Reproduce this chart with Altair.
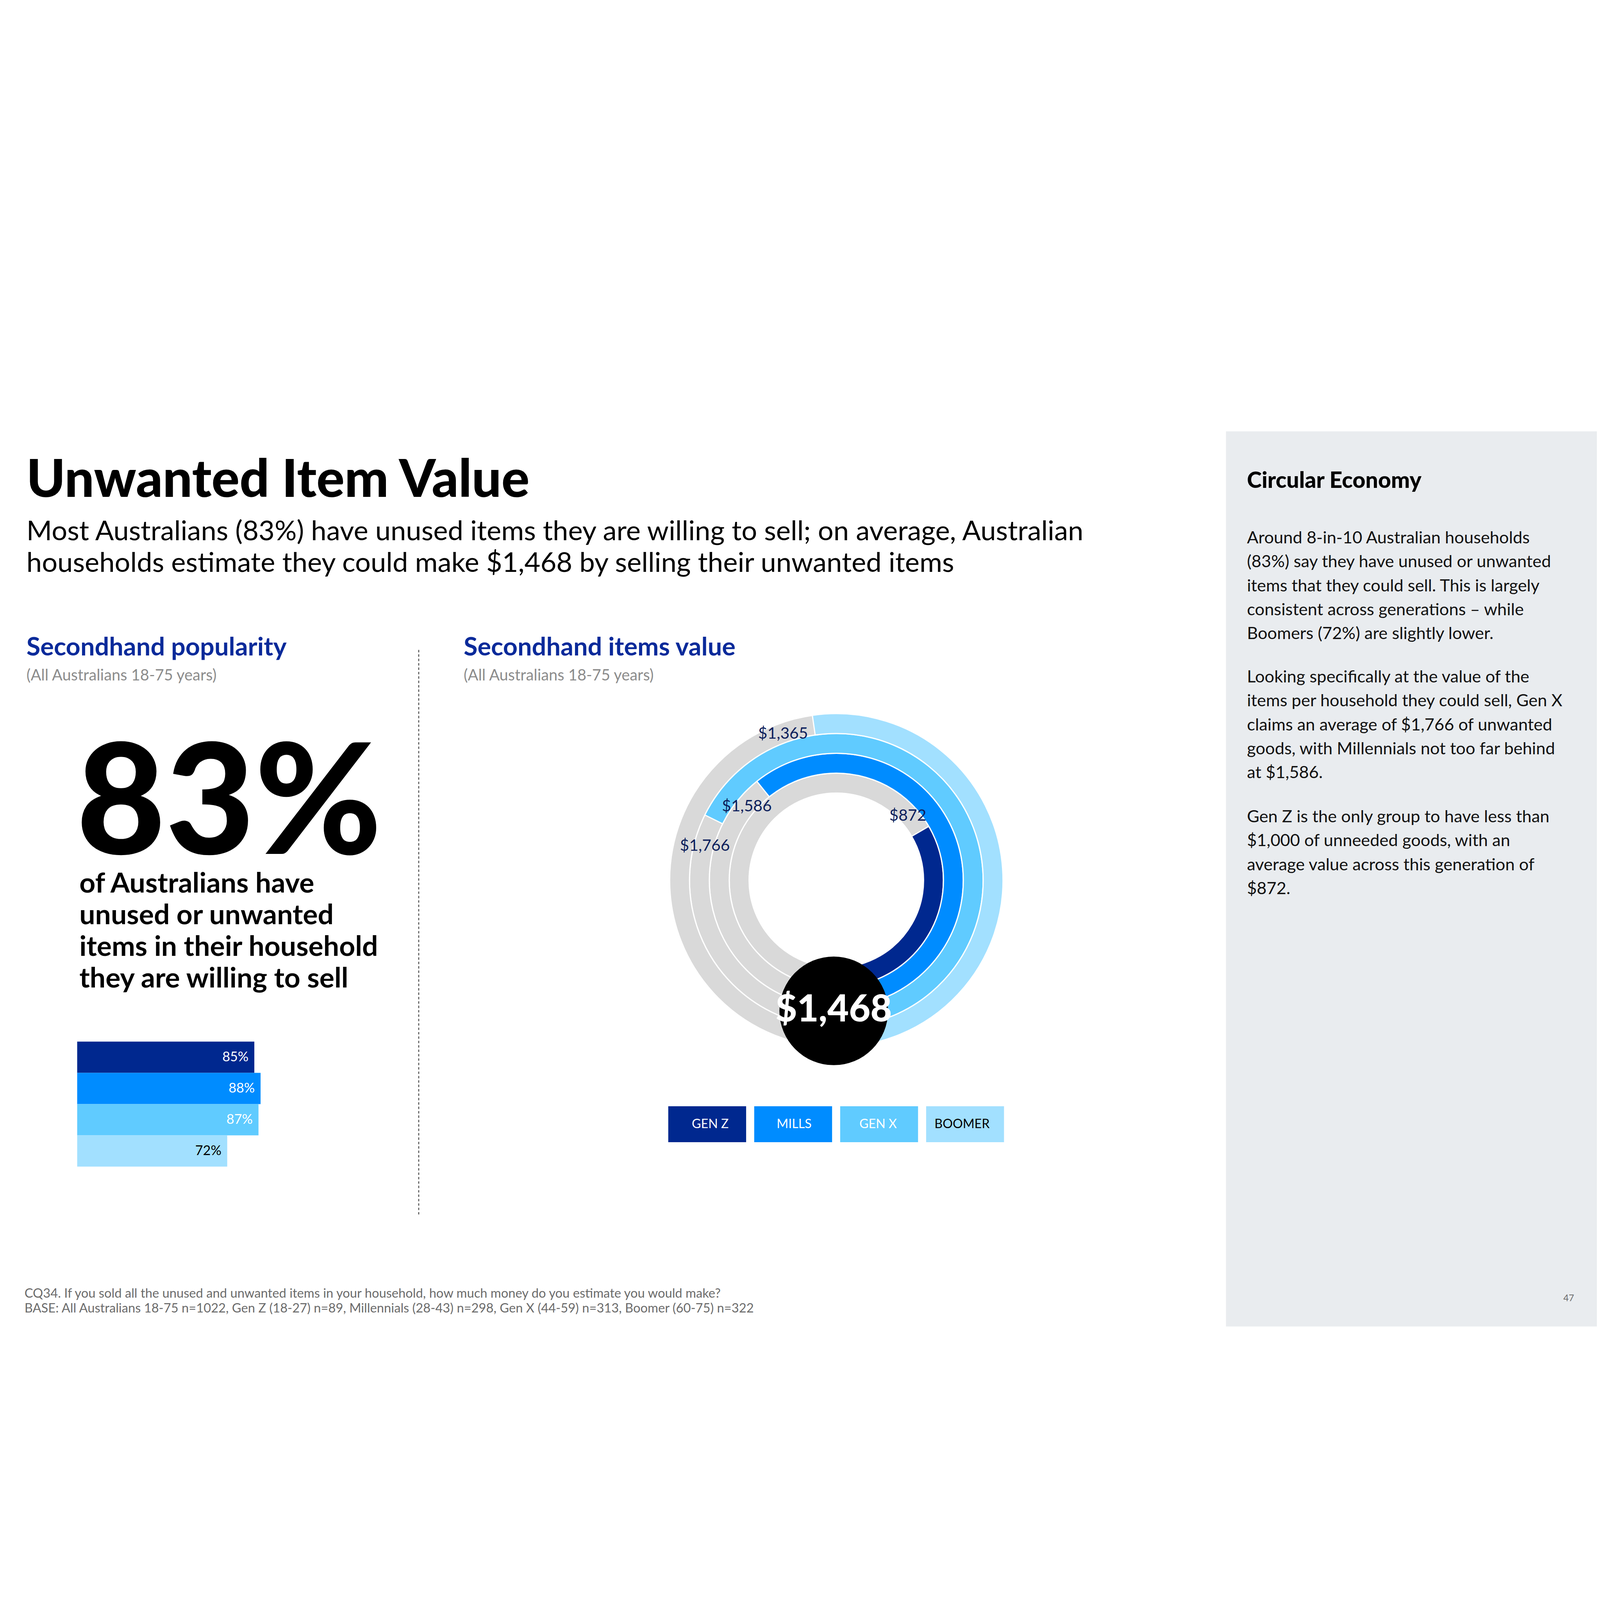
import math
import altair as alt
import pandas as pd

# data
generations = ["GEN Z", "MILLS", "GEN X", "BOOMER"]
willing_pct = [85, 88, 87, 72]          # have items willing to sell (%)
item_value = [872, 1586, 1766, 1365]    # estimated value of unwanted items ($)
overall_pct = [83]
overall_value = [1468]

gen_colors = ["#00288F", "#008CFF", "#60CBFF", "#A2E0FF"]

FONT = "Lato"
NAVY = "#0A2A9A"
W, H = 7984, 4484
OFF = 8  # page margin


def P(v):
    return v - OFF


one = pd.DataFrame({"k": [0]})


def label(text, x, y, size, color="#000000", weight="normal", align="left",
          line_height=None, baseline="alphabetic"):
    kw = dict(text=text, fontSize=size, color=color, fontWeight=weight,
              align=align, font=FONT, baseline=baseline)
    if "\n" in text:
        kw.update(lineBreak="\n", lineHeight=line_height)
    return alt.Chart(one).mark_text(**kw).encode(x=alt.value(P(x)), y=alt.value(P(y)))


color_enc = alt.Color("gen:N", scale=alt.Scale(domain=generations, range=gen_colors), legend=None)
text_col = alt.when(alt.datum.gen == "BOOMER").then(alt.value("#000000")).otherwise(alt.value("#FFFFFF"))

# right grey panel
panel = alt.Chart(one).mark_rect(color="#E9ECEF").encode(
    x=alt.value(P(6134)), x2=alt.value(W), y=alt.value(0), y2=alt.value(H))

# ---- left: popularity bars
bar_df = pd.DataFrame({"gen": generations, "pct": willing_pct})
x_bar = alt.X("pct:Q", scale=alt.Scale(domain=[0, 100], range=[P(379), P(1423)]), axis=None)
y_bar = alt.Y("gen:N", scale=alt.Scale(domain=generations, range=[P(3065), P(3691)],
                                       paddingInner=0, paddingOuter=0), axis=None)
bars = alt.Chart(bar_df).mark_bar().encode(x=x_bar, y=y_bar, color=color_enc)
bar_text = alt.Chart(bar_df).transform_calculate(lab="datum.pct + '%'").mark_text(
    align="right", baseline="middle", dx=-29, fontSize=67, font=FONT
).encode(x=x_bar, y=y_bar, text="lab:N", color=text_col)

big_pct = alt.Chart(pd.DataFrame({"v": overall_pct})).transform_calculate(
    lab="datum.v + '%'").mark_text(
    align="left", baseline="alphabetic", fontSize=770, fontWeight=900, font=FONT, color="#000000"
).encode(x=alt.value(P(375)), y=alt.value(P(2125)), text="lab:N")

# ---- middle: radial value chart
CX, CY = P(4182), P(2257)
ring_df = pd.DataFrame({"gen": generations, "value": item_value, "ring": [0, 1, 2, 3]})
theta_scale = alt.Scale(domain=[0, 2610], range=[3 * math.pi, math.pi])
radius_scale = alt.Scale(type="linear", domain=[0, 4], range=[437, 835], zero=False)

track = alt.Chart(ring_df).transform_calculate(ring_out="datum.ring + 1").mark_arc(
    theta=0, theta2=2 * math.pi, color="#D9D9D9", stroke="#FFFFFF", strokeWidth=6
).encode(
    x=alt.value(CX), y=alt.value(CY),
    radius=alt.Radius("ring:Q", scale=radius_scale), radius2="ring_out:Q")

arcs = alt.Chart(ring_df).transform_calculate(ring_out="datum.ring + 1").mark_arc(
    stroke="#FFFFFF", strokeWidth=6
).encode(
    x=alt.value(CX), y=alt.value(CY),
    theta=alt.Theta("value:Q", scale=theta_scale, stack=False), theta2=alt.datum(0),
    radius=alt.Radius("ring:Q", scale=radius_scale), radius2="ring_out:Q",
    color=color_enc)

# value labels sit just counter-clockwise of where each arc starts
arc_text = alt.Chart(ring_df).transform_calculate(
    lab_at="datum.value + 85", r_mid="datum.ring + 0.45").mark_text(
    fontSize=80, font=FONT, color="#0D1F5C", baseline="middle"
).encode(
    x=alt.value(CX), y=alt.value(CY),
    theta=alt.Theta("lab_at:Q", scale=theta_scale, stack=False),
    radius=alt.Radius("r_mid:Q", scale=radius_scale),
    text=alt.Text("value:Q", format="$,"))

avg_df = pd.DataFrame({"v": overall_value})
avg_dot = alt.Chart(avg_df).mark_circle(size=math.pi * 307 ** 2, color="#000000", opacity=1).encode(
    x=alt.value(P(4169)), y=alt.value(P(2911)))
avg_text = alt.Chart(avg_df).mark_text(
    fontSize=186, fontWeight=900, font=FONT, color="#FFFFFF", baseline="alphabetic"
).encode(x=alt.value(P(4169)), y=alt.value(P(2965)), text=alt.Text("v:Q", format="$,"))

# legend boxes
x_leg = alt.X("gen:N", scale=alt.Scale(domain=generations, range=[P(3340), P(5022)],
                                       paddingInner=0.094, paddingOuter=0), axis=None)
leg_df = pd.DataFrame({"gen": generations})
leg_box = alt.Chart(leg_df).mark_rect().encode(
    x=x_leg, y=alt.value(P(3389)), y2=alt.value(P(3569)), color=color_enc)
leg_text = alt.Chart(leg_df).mark_text(fontSize=63, font=FONT, baseline="middle").encode(
    x=x_leg, y=alt.value(P(3479)), text="gen:N", color=text_col)

divider = alt.Chart(one).mark_rule(color="#555555", strokeWidth=5, strokeDash=[12, 10]).encode(
    x=alt.value(P(2090)), y=alt.value(P(1103)), y2=alt.value(P(3939)))

texts = [
    label("Unwanted Item Value", 125, 337, 262, weight=900),
    label("Most Australians (83%) have unused items they are willing to sell; on average, Australian\n"
          "households estimate they could make $1,468 by selling their unwanted items",
          125, 553, 138, line_height=159),
    label("Secondhand popularity", 125, 1130, 127, color=NAVY, weight="bold"),
    label("(All Australians 18-75 years)", 125, 1255, 78, color="#8C8C8C"),
    label("Secondhand items value", 2315, 1130, 127, color=NAVY, weight="bold"),
    label("(All Australians 18-75 years)", 2315, 1255, 78, color="#8C8C8C"),
    label("of Australians have\nunused or unwanted\nitems in their household\nthey are willing to sell",
          390, 2318, 140, weight="bold", line_height=159),
    label("Circular Economy", 6239, 292, 112, weight=900),
    label("Around 8-in-10 Australian households\n(83%) say they have unused or unwanted\n"
          "items that they could sell. This is largely\nconsistent across generations \u2013 while\n"
          "Boomers (72%) are slightly lower.", 6239, 569, 85, color="#111111", line_height=120),
    label("Looking specifically at the value of the\nitems per household they could sell, Gen X\n"
          "claims an average of $1,766 of unwanted\ngoods, with Millennials not too far behind\n"
          "at $1,586.", 6239, 1266, 85, color="#111111", line_height=120),
    label("Gen Z is the only group to have less than\n$1,000 of unneeded goods, with an\n"
          "average value across this generation of\n$872.", 6239, 1966, 85, color="#111111",
          line_height=120),
    label("CQ34. If you sold all the unused and unwanted items in your household, how much money do you estimate you would make?\n"
          "BASE: All Australians 18-75 n=1022, Gen Z (18-27) n=89, Millennials (28-43) n=298, Gen X (44-59) n=313, Boomer (60-75) n=322",
          115, 4348, 64, color="#6B6B6B", line_height=75),
    label("47", 7851, 4365, 46, color="#6B6B6B", align="center"),
]

chart = alt.layer(
    panel, divider, bars, bar_text, big_pct,
    track, arcs, arc_text, avg_dot, avg_text, leg_box, leg_text,
    *texts
).resolve_scale(
    x="independent", y="independent"
).properties(
    width=W, height=H, padding=0, autosize=alt.AutoSizeParams(type="none"),
    background="#FFFFFF"
).configure_view(strokeWidth=0)

chart.save("out.html", embed_options={"renderer": "svg", "actions": False})
